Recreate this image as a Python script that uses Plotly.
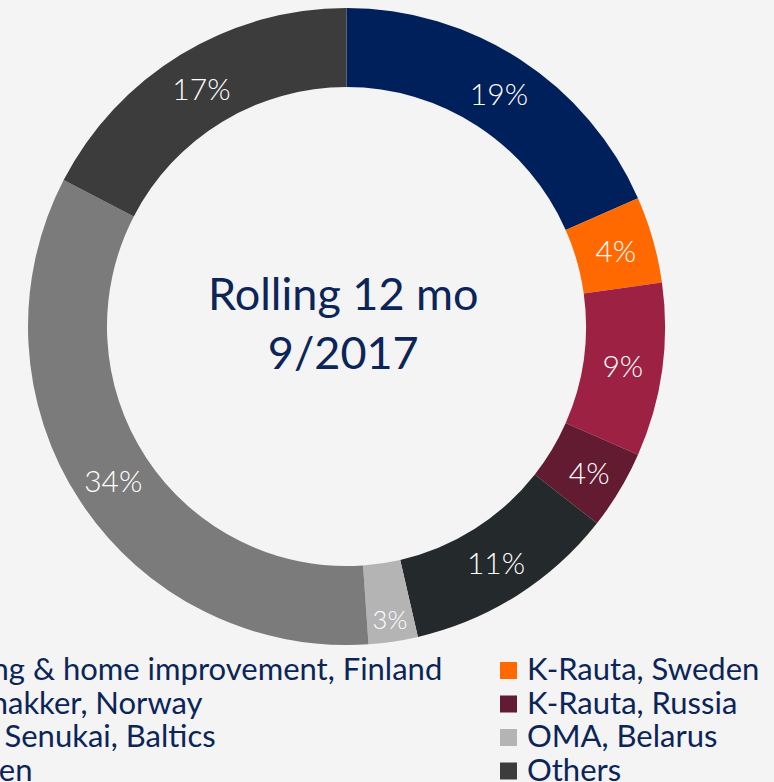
import plotly.graph_objects as go

# ---- data ----
categories = [
    "Building & home improvement, Finland",
    "K-Rauta, Sweden",
    "Byggmakker, Norway",
    "K-Rauta, Russia",
    "Kesko Senukai, Baltics",
    "OMA, Belarus",
    "Onninen",
    "Others",
]
shares = [18.4, 4.4, 8.8, 4.0, 10.8, 2.5, 33.7, 17.4]
share_labels = ["19%", "4%", "9%", "4%", "11%", "3%", "34%", "17%"]
colors = ["#00205b", "#ff6900", "#9c2143", "#631b31",
          "#24292c", "#b4b4b4", "#7b7b7b", "#3c3c3c"]
center_title = "Rolling 12 mo<br>9/2017"

# ---- layout constants ----
W, H = 774, 782
BG = "#f4f4f4"
NAVY_TEXT = "#0b2559"
FONT = "Lato"

fig = go.Figure()

fig.add_trace(go.Pie(
    labels=categories,
    values=shares,
    text=share_labels,
    textinfo="text",
    textposition="inside",
    insidetextorientation="horizontal",
    textfont=dict(family=FONT, size=30, color="white", weight=300),
    marker=dict(colors=colors, line=dict(width=0)),
    hole=0.752,
    sort=False,
    direction="clockwise",
    rotation=0,
    showlegend=False,
    hoverinfo="label+percent",
    domain=dict(x=[28 / W, 665 / W], y=[1 - 645 / H, 1 - 8 / H]),
))

# ---- legend drawn in two columns: markers on pixel-mapped hidden axes ----
col_text_x = [-86, 526]          # left edge of text for each column (px)
marker_offset = 17.5             # marker centre sits this far left of text
row_top, row_step = 670.5, 33.5
text_lift = 2.5
mx, my, tx = [], [], []
for i, _ in enumerate(categories):
    col, row = i % 2, i // 2
    mx.append(col_text_x[col] - marker_offset)
    tx.append(col_text_x[col])
    my.append(row_top + row * row_step)

fig.add_trace(go.Scatter(
    x=mx, y=my, mode="markers",
    marker=dict(symbol="square", size=17, color=colors, line=dict(width=0)),
    cliponaxis=False, showlegend=False, hoverinfo="skip",
))
for name, x, y in zip(categories, tx, my):
    fig.add_annotation(
        text=name, x=x / W, y=1 - (y - text_lift) / H, xref="paper", yref="paper",
        xanchor="left", yanchor="middle", showarrow=False, borderpad=0,
        font=dict(family=FONT, size=31, color=NAVY_TEXT),
    )

fig.update_xaxes(range=[0, W], visible=False, domain=[0, 1], fixedrange=True)
fig.update_yaxes(range=[H, 0], visible=False, domain=[0, 1], fixedrange=True)

fig.add_annotation(
    text=center_title, x=343 / W, y=1 - 322 / H, xref="paper", yref="paper",
    xanchor="center", yanchor="middle", showarrow=False,
    font=dict(family=FONT, size=45, color=NAVY_TEXT),
)

fig.update_layout(
    width=W, height=H,
    margin=dict(l=0, r=0, t=0, b=0),
    paper_bgcolor=BG, plot_bgcolor=BG,
    showlegend=False,
)

fig.write_html(
    "out.html",
    config={"displayModeBar": False, "staticPlot": True},
    post_script="document.body.style.margin='0';"
                "document.body.style.background='%s';"
                "document.body.style.overflow='hidden';" % BG,
)
